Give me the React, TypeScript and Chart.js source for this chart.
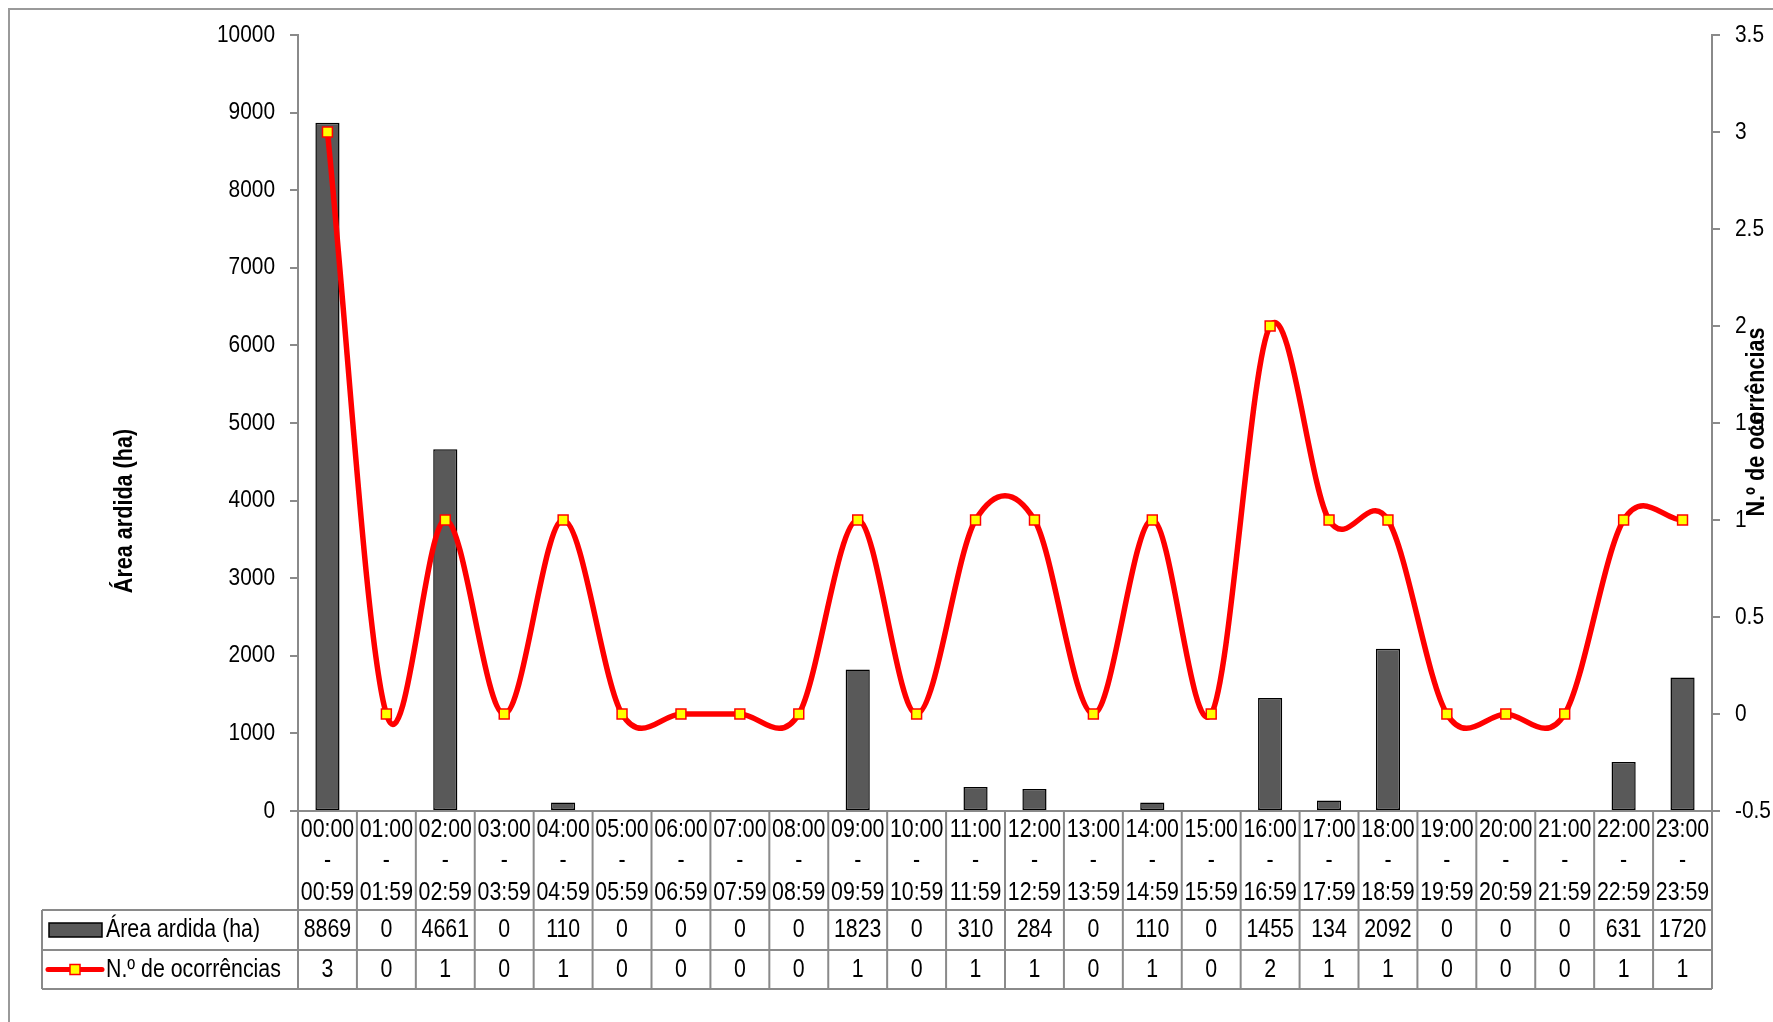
import React, { useEffect, useRef } from 'react';
import { Chart, registerables } from 'chart.js';

Chart.register(...registerables);

const slotStart = ['00:00','01:00','02:00','03:00','04:00','05:00','06:00','07:00','08:00','09:00','10:00','11:00','12:00','13:00','14:00','15:00','16:00','17:00','18:00','19:00','20:00','21:00','22:00','23:00'];
const slotEnd = ['00:59','01:59','02:59','03:59','04:59','05:59','06:59','07:59','08:59','09:59','10:59','11:59','12:59','13:59','14:59','15:59','16:59','17:59','18:59','19:59','20:59','21:59','22:59','23:59'];
const areaArdida = [8869,0,4661,0,110,0,0,0,0,1823,0,310,284,0,110,0,1455,134,2092,0,0,0,631,1720];
const ocorrencias = [3,0,1,0,1,0,0,0,0,1,0,1,1,0,1,0,2,1,1,0,0,0,1,1];
const areaLabel = 'Área ardida (ha)';
const ocorrLabel = 'N.º de ocorrências';
const leftTitle = 'Área ardida (ha)';
const rightTitle = 'N.º de ocorrências';

const FONT = "'Liberation Sans', Arial, sans-serif";
const GRAY = '#8a8a8a';

function sText(ctx: CanvasRenderingContext2D, text: string, x: number, y: number, size: number, align: CanvasTextAlign, sx = 0.82, bold = false, rot = 0) {
  ctx.save();
  ctx.font = `${bold ? 'bold ' : ''}${size}px ${FONT}`;
  ctx.textBaseline = 'middle';
  ctx.textAlign = align;
  ctx.fillStyle = '#000';
  ctx.translate(x, y);
  if (rot) ctx.rotate(rot);
  ctx.scale(sx, 1);
  ctx.fillText(text, 0, 0);
  ctx.restore();
}

// Excel-like smoothing: uniform Catmull-Rom control points in pixel space
const smoothPlugin = {
  id: 'smoothPlugin',
  beforeDatasetDraw(chart: any, args: any) {
    const meta = chart.getDatasetMeta(args.index);
    if (meta.type !== 'line' || !meta.dataset) return;
    const pts = meta.data;
    const n = pts.length;
    for (let i = 0; i < n; i++) {
      const p = pts[i];
      let tx: number, ty: number;
      if (i === 0) {
        tx = (pts[1].x - p.x) / 3; ty = (pts[1].y - p.y) / 3;
      } else if (i === n - 1) {
        tx = (p.x - pts[i - 1].x) / 3; ty = (p.y - pts[i - 1].y) / 3;
      } else {
        tx = (pts[i + 1].x - pts[i - 1].x) / 6; ty = (pts[i + 1].y - pts[i - 1].y) / 6;
      }
      p.cp1x = p.x - tx; p.cp1y = p.y - ty;
      p.cp2x = p.x + tx; p.cp2y = p.y + ty;
    }
    meta.dataset._pointsUpdated = true;
    meta.dataset._path = undefined;
  },
};

const tablePlugin = {
  id: 'tablePlugin',
  afterDraw(chart: any) {
    const ctx: CanvasRenderingContext2D = chart.ctx;
    const area = chart.chartArea;
    const xs = chart.scales.x;
    const yl = chart.scales.y;
    const yr = chart.scales.y1;
    ctx.save();
    ctx.strokeStyle = '#9a9a9a';
    ctx.lineWidth = 2;
    ctx.beginPath();
    ctx.moveTo(9, 1022);
    ctx.lineTo(9, 9);
    ctx.lineTo(1773, 9);
    ctx.stroke();

    yl.ticks.forEach((t: any) => {
      sText(ctx, String(t.value), 275, yl.getPixelForValue(t.value), 24, 'right', 0.87);
    });
    yr.ticks.forEach((t: any) => {
      sText(ctx, String(t.value), 1735, yr.getPixelForValue(t.value), 24, 'left', 0.87);
    });

    const n = slotStart.length;
    const centers = slotStart.map((_, i) => xs.getPixelForValue(i));
    const bounds: number[] = [area.left];
    for (let i = 1; i < n; i++) bounds.push((centers[i - 1] + centers[i]) / 2);
    bounds.push(area.right);
    const top = area.bottom;
    const r1 = top + 99;
    const r2 = r1 + 40;
    const r3 = r2 + 39;
    const tableLeft = 42;
    ctx.strokeStyle = GRAY;
    ctx.lineWidth = 2;
    ctx.beginPath();
    bounds.forEach((b) => { ctx.moveTo(b, top); ctx.lineTo(b, r3); });
    ctx.moveTo(tableLeft, r1); ctx.lineTo(tableLeft, r3);
    [r1, r2, r3].forEach((y) => { ctx.moveTo(tableLeft, y); ctx.lineTo(area.right, y); });
    ctx.stroke();

    centers.forEach((cx, i) => {
      sText(ctx, slotStart[i], cx, top + 19, 26, 'center');
      sText(ctx, '-', cx, top + 50, 26, 'center');
      sText(ctx, slotEnd[i], cx, top + 82, 26, 'center');
      sText(ctx, String(areaArdida[i]), cx, (r1 + r2) / 2, 26, 'center');
      sText(ctx, String(ocorrencias[i]), cx, (r2 + r3) / 2, 26, 'center');
    });

    const c1 = (r1 + r2) / 2;
    const c2 = (r2 + r3) / 2;
    ctx.fillStyle = '#595959';
    ctx.fillRect(49, c1 - 7, 53, 14);
    ctx.strokeStyle = '#000';
    ctx.lineWidth = 1.5;
    ctx.strokeRect(49, c1 - 7, 53, 14);
    ctx.strokeStyle = '#ff0000';
    ctx.lineWidth = 5;
    ctx.lineCap = 'round';
    ctx.beginPath();
    ctx.moveTo(48, c2); ctx.lineTo(102, c2);
    ctx.stroke();
    ctx.lineCap = 'butt';
    ctx.fillStyle = '#ffff00';
    ctx.fillRect(70, c2 - 5, 10, 10);
    ctx.strokeStyle = '#ff0000';
    ctx.lineWidth = 1.5;
    ctx.strokeRect(70, c2 - 5, 10, 10);
    sText(ctx, areaLabel, 106, c1, 26, 'left');
    sText(ctx, ocorrLabel, 106, c2, 26, 'left');

    sText(ctx, leftTitle, 125, 511, 26, 'center', 0.83, true, -Math.PI / 2);
    sText(ctx, rightTitle, 1757, 422, 26, 'center', 0.83, true, -Math.PI / 2);
    ctx.restore();
  },
};

export default function App() {
  const ref = useRef<HTMLCanvasElement | null>(null);
  useEffect(() => {
    if (!ref.current) return;
    const chart = new Chart(ref.current, {
      type: 'bar',
      data: {
        labels: slotStart.map((s, i) => `${s} - ${slotEnd[i]}`),
        datasets: [
          {
            type: 'line',
            label: ocorrLabel,
            data: ocorrencias,
            yAxisID: 'y1',
            borderColor: '#ff0000',
            borderWidth: 5.5,
            tension: 0.4,
            fill: false,
            pointStyle: 'rect',
            pointRadius: 7,
            pointBackgroundColor: '#ffff00',
            pointBorderColor: '#ff0000',
            pointBorderWidth: 1.5,
            order: 1,
          } as any,
          {
            type: 'bar',
            label: areaLabel,
            data: areaArdida,
            yAxisID: 'y',
            backgroundColor: '#595959',
            borderColor: '#000000',
            borderWidth: (c: any) => (c.raw === 0 ? 0 : 1.5),
            borderSkipped: false,
            barPercentage: 0.41,
            categoryPercentage: 1,
            order: 2,
          } as any,
        ],
      },
      options: {
        responsive: false,
        animation: false,
        devicePixelRatio: 1,
        layout: { padding: { top: 35, left: 0, right: 0, bottom: 0 } },
        plugins: { legend: { display: false }, tooltip: { enabled: false } },
        scales: {
          x: {
            offset: true,
            ticks: { display: false },
            grid: { display: false },
            border: { display: true, color: GRAY, width: 2 },
            afterFit: (s: any) => { s.height = 211; },
          },
          y: {
            position: 'left',
            min: 0,
            max: 10000,
            ticks: { stepSize: 1000, display: false },
            grid: { drawOnChartArea: false, drawTicks: true, tickLength: 8, color: GRAY, lineWidth: 2 },
            border: { display: true, color: GRAY, width: 2 },
            afterFit: (s: any) => { s.width = 298; },
          },
          y1: {
            position: 'right',
            min: -0.5,
            max: 3.5,
            ticks: { stepSize: 0.5, display: false },
            grid: { drawOnChartArea: false, drawTicks: true, tickLength: 8, color: GRAY, lineWidth: 2 },
            border: { display: true, color: GRAY, width: 2 },
            afterFit: (s: any) => { s.width = 61; },
          },
        },
      },
      plugins: [smoothPlugin, tablePlugin],
    });
    return () => chart.destroy();
  }, []);
  return (
    <div style={{ position: 'absolute', left: 0, top: 0, width: 1773, height: 1022, background: '#fff' }}>
      <canvas ref={ref} width={1773} height={1022} style={{ display: 'block', width: 1773, height: 1022 }} />
    </div>
  );
}
